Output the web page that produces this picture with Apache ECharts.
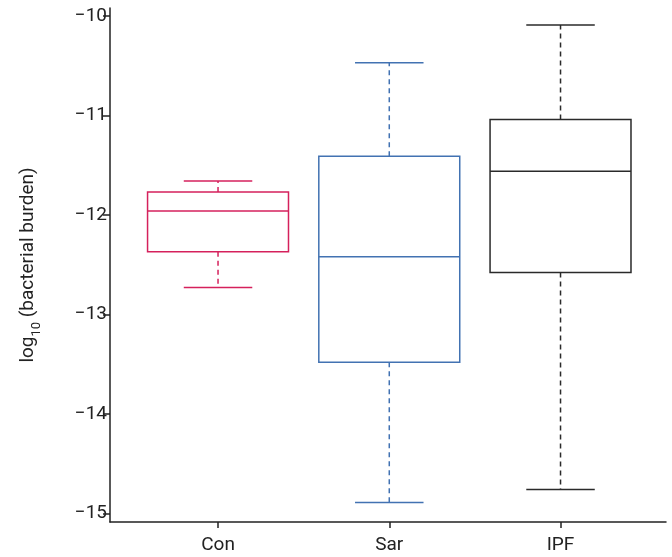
<!DOCTYPE html>
<html>
<head>
<meta charset="utf-8">
<script src="https://cdn.jsdelivr.net/npm/echarts@6/dist/echarts.min.js"></script>
<style>
html,body{margin:0;padding:0;background:#fff;}
#chart{width:672px;height:557px;}
</style>
</head>
<body>
<div id="chart"></div>
<script>
const categories = ['Con', 'Sar', 'IPF'];
const whiskerLow = [-12.73, -14.89, -14.76];
const q1 = [-12.37, -13.48, -12.58];
const median = [-11.96, -12.42, -11.56];
const q3 = [-11.77, -11.41, -11.04];
const whiskerHigh = [-11.66, -10.47, -10.09];
const yTicks = [-15, -14, -13, -12, -11, -10];
const colors = ['#d5215c', '#4272b2', '#2a2a2a'];

const yMin = -15.087, yMax = -9.92;
const FONT = 'Roboto, "Noto Sans", sans-serif';

const boxData = categories.map((c, i) => [i, whiskerLow[i], q1[i], median[i], q3[i], whiskerHigh[i]]);

function renderItem(params, api) {
  const idx = api.value(0);
  const color = colors[idx];
  const band = api.size([1, 0])[0];
  const bw = band * 0.823;
  const cw = band * 0.40;
  const pLow = api.coord([idx, api.value(1)]);
  const pQ1 = api.coord([idx, api.value(2)]);
  const pMed = api.coord([idx, api.value(3)]);
  const pQ3 = api.coord([idx, api.value(4)]);
  const pHigh = api.coord([idx, api.value(5)]);
  const cx = pMed[0];
  const solid = {stroke: color, lineWidth: 1.5, fill: null};
  const dashed = {stroke: color, lineWidth: 1.5, fill: null, lineDash: [5, 4]};
  return {
    type: 'group',
    children: [
      {type: 'line', shape: {x1: cx, y1: pQ3[1], x2: cx, y2: pHigh[1]}, style: dashed},
      {type: 'line', shape: {x1: cx, y1: pQ1[1], x2: cx, y2: pLow[1]}, style: dashed},
      {type: 'line', shape: {x1: cx - cw / 2, y1: pHigh[1], x2: cx + cw / 2, y2: pHigh[1]}, style: solid},
      {type: 'line', shape: {x1: cx - cw / 2, y1: pLow[1], x2: cx + cw / 2, y2: pLow[1]}, style: solid},
      {type: 'rect', shape: {x: cx - bw / 2, y: pQ3[1], width: bw, height: pQ1[1] - pQ3[1]}, style: solid},
      {type: 'line', shape: {x1: cx - bw / 2, y1: pMed[1], x2: cx + bw / 2, y2: pMed[1]}, style: solid}
    ]
  };
}

const chart = echarts.init(document.getElementById('chart'), null, {renderer: 'canvas'});
chart.setOption({
  animation: false,
  backgroundColor: '#fff',
  grid: [
    {left: 110, right: 6, top: 8, bottom: 35},
    {left: 132.4, width: 513.75, top: 8, bottom: 35}
  ],
  xAxis: [
    {
      gridIndex: 0, type: 'value', min: 0, max: 1,
      axisLine: {show: true, lineStyle: {color: '#222', width: 1.5}},
      axisTick: {show: false}, axisLabel: {show: false}, splitLine: {show: false}
    },
    {
      gridIndex: 1, type: 'category', data: categories,
      axisLine: {show: false},
      axisTick: {show: true, alignWithLabel: true, length: 6, lineStyle: {color: '#222', width: 1.5}},
      axisLabel: {fontSize: 19, color: '#222', margin: 14, fontFamily: FONT},
      splitLine: {show: false}
    }
  ],
  yAxis: [
    {
      gridIndex: 0, type: 'value', min: yMin, max: yMax,
      axisLine: {show: true, lineStyle: {color: '#222', width: 1.5}},
      axisTick: {show: true, length: 7, customValues: yTicks, lineStyle: {color: '#222', width: 1.5}},
      axisLabel: {
        customValues: yTicks, fontSize: 19, color: '#222', margin: 3, fontFamily: FONT,
        formatter: v => String(v).replace('-', '\u2212')
      },
      splitLine: {show: false},
      name: '{a|log}{b|10}{a| (bacterial burden)}',
      nameLocation: 'middle', nameRotate: 90, nameGap: 72,
      nameTextStyle: {
        rich: {
          a: {fontSize: 19, color: '#222', fontFamily: FONT, lineHeight: 24, verticalAlign: 'bottom'},
          b: {fontSize: 13, color: '#222', fontFamily: FONT, lineHeight: 24, verticalAlign: 'bottom', padding: [0, 0, -5, 0]}
        }
      }
    },
    {
      gridIndex: 1, type: 'value', min: yMin, max: yMax, show: false
    }
  ],
  series: [{
    type: 'custom',
    xAxisIndex: 1, yAxisIndex: 1,
    renderItem: renderItem,
    data: boxData,
    encode: {x: 0, y: [1, 2, 3, 4, 5]}
  }]
});
</script>
</body>
</html>
